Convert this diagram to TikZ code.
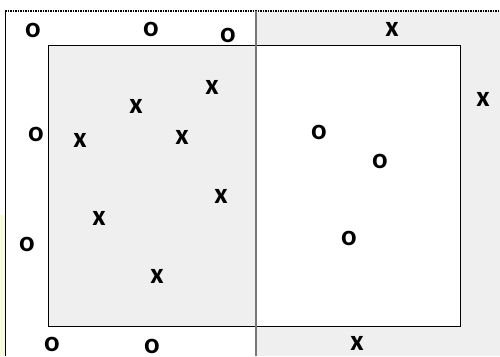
\documentclass[tikz,border=0pt]{standalone}
\usepackage{fontspec}
\setmainfont{Carlito}
\definecolor{panelgray}{HTML}{EFEFEF}
\definecolor{divgray}{HTML}{777777}
\definecolor{paleyel}{HTML}{F6FCE2}
\tikzset{
  mk/.style={inner sep=0pt, font=\fontsize{29}{29}\selectfont\bfseries},
  frame/.style={draw=black, line width=1pt},
}
\begin{document}
\begin{tikzpicture}[x=1pt,y=-1pt]
\useasboundingbox (0,0) rectangle (500,356);
\fill[white] (0,0) rectangle (500,356);
% right gray half
\fill[panelgray] (256,11) rectangle (500,356);
% pale strip at left
\fill[paleyel] (0,215) rectangle (5,356);
% inner rectangle: gray left, white right
\fill[panelgray] (48,45) rectangle (256,326);
\fill[white] (256,45) rectangle (460,326);
\draw[frame] (48,45) rectangle (460,326);
% outer frame
\draw[black, line width=1pt] (5,11) -- (5,356);
\draw[black, line width=1.2pt, dash pattern=on 1.5pt off 1pt] (5,11) -- (500,11);
% divider
\coordinate (dtop) at (256,11);
\coordinate (dbot) at (256,356);
\draw[divgray, line width=1.5pt] (dtop) -- (dbot);
% outer o marks
\node[mk] (o1) at (33,30) {o};
\node[mk] (o2) at (151,29) {o};
\node[mk] (o3) at (228,35) {o};
\node[mk] (o4) at (36,134) {o};
\node[mk] (o5) at (27,244) {o};
\node[mk] (o6) at (52,344) {o};
\node[mk] (o7) at (152,346) {o};
% outer x marks
\node[mk] (x1) at (392,29) {x};
\node[mk] (x2) at (483,99) {x};
\node[mk] (x3) at (357,343) {x};
% inner x marks
\node[mk] (x4) at (212,87) {x};
\node[mk] (x5) at (136,106) {x};
\node[mk] (x6) at (80,140) {x};
\node[mk] (x7) at (182,137) {x};
\node[mk] (x8) at (221,196) {x};
\node[mk] (x9) at (99,218) {x};
\node[mk] (x10) at (157,276) {x};
% inner o marks
\node[mk] (o8) at (319,132) {o};
\node[mk] (o9) at (380,161) {o};
\node[mk] (o10) at (349,238) {o};
\end{tikzpicture}
\end{document}
